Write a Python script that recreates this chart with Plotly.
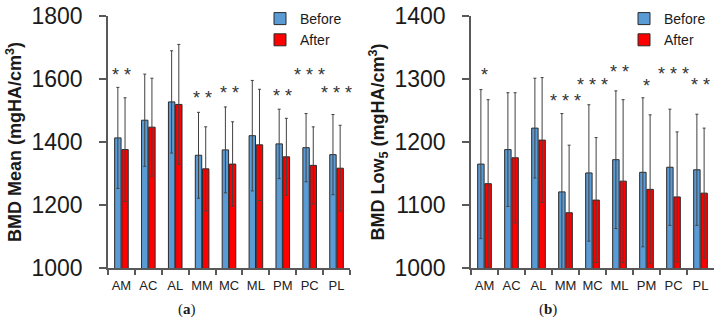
import plotly.graph_objects as go
from plotly.subplots import make_subplots

regions = ["AM", "AC", "AL", "MM", "MC", "ML", "PM", "PC", "PL"]

# Panel (a): BMD Mean
mean_before = [1413, 1469, 1527, 1358, 1375, 1420, 1394, 1382, 1360]
mean_before_sd = [160, 146, 162, 136, 136, 175, 110, 108, 127]
mean_after = [1376, 1447, 1519, 1315, 1330, 1391, 1353, 1326, 1317]
mean_after_sd = [164, 155, 190, 133, 134, 176, 122, 122, 136]
mean_sig = ["**", "", "", "**", "**", "", "**", "***", "***"]
mean_sig_y = [1612, 0, 0, 1538, 1554, 0, 1546, 1612, 1556]

# Panel (b): BMD Low5
low_before = [1165, 1188, 1222, 1121, 1151, 1172, 1152, 1160, 1156]
low_before_sd = [118, 90, 79, 124, 108, 109, 118, 92, 88]
low_after = [1134, 1175, 1203, 1088, 1108, 1138, 1125, 1113, 1119]
low_after_sd = [133, 103, 99, 107, 99, 129, 118, 103, 103]
low_sig = ["*", "", "", "***", "***", "**", "*", "***", "**"]
low_sig_y = [1306, 0, 0, 1265, 1291, 1311, 1289, 1308, 1291]

BLUE = "#5b9bd5"
RED = "#ff0000"
EDGE = "#2b2b2b"
ERR = "#404040"
AXIS = "#595959"
FONT = "Arial, Liberation Sans, sans-serif"

fig = make_subplots(rows=1, cols=2)

def add_panel(col, before, bsd, after, asd, legend):
    fig.add_trace(go.Bar(
        x=regions, y=before, name="Before", marker_color=BLUE,
        marker_line=dict(color=EDGE, width=1),
        error_y=dict(type="data", array=bsd, visible=True, color=ERR, thickness=1, width=1.5),
        legend=legend), row=1, col=col)
    fig.add_trace(go.Bar(
        x=regions, y=after, name="After", marker_color=RED,
        marker_line=dict(color=EDGE, width=1),
        error_y=dict(type="data", array=asd, visible=True, color=ERR, thickness=1, width=1.5),
        legend=legend), row=1, col=col)

add_panel(1, mean_before, mean_before_sd, mean_after, mean_after_sd, "legend")
add_panel(2, low_before, low_before_sd, low_after, low_after_sd, "legend2")

def spaced(s):
    return " ".join(list(s))

for i, (s, y) in enumerate(zip(mean_sig, mean_sig_y)):
    if s:
        fig.add_annotation(x=regions[i], y=y, xref="x", yref="y", text=spaced(s),
                           xanchor="center", yanchor="middle",
                           showarrow=False, font=dict(size=18, color="#333", family=FONT))
for i, (s, y) in enumerate(zip(low_sig, low_sig_y)):
    if s:
        fig.add_annotation(x=regions[i], y=y, xref="x2", yref="y2", text=spaced(s),
                           xanchor="center", yanchor="middle",
                           showarrow=False, font=dict(size=18, color="#333", family=FONT))

H = 321.0
W = 721.0
ydom = [(H - 268.3) / H, (H - 15.7) / H]

xcommon = dict(showline=True, linecolor=AXIS, linewidth=1.5, ticks="outside", ticklen=5,
               tickcolor=AXIS, tickwidth=1.5, tickson="boundaries", showgrid=False,
               tickangle=0, ticklabelstandoff=4,
               tickfont=dict(size=13, color="#222", family=FONT), range=[-0.5, 8.5])
ycommon = dict(showline=True, linecolor=AXIS, linewidth=1.5, ticks="outside", ticklen=7,
               tickcolor=AXIS, tickwidth=1.5, showgrid=False, zeroline=False,
               tickfont=dict(size=23, color="#1a1a1a", family=FONT), ticklabelstandoff=12,
               domain=ydom)

TITLE_FONT = dict(size=18, color="#1a1a1a", family=FONT)

fig.update_xaxes(**xcommon)
fig.update_yaxes(**ycommon)
fig.update_layout(
    xaxis=dict(domain=[108 / W, 350 / W]),
    xaxis2=dict(domain=[471 / W, 714 / W]),
    yaxis=dict(range=[1000, 1800], dtick=200,
               title=dict(text="<b>BMD Mean (mgHA/cm<sup>3</sup>)</b>", standoff=5, font=TITLE_FONT)),
    yaxis2=dict(range=[1000, 1400], dtick=100,
                title=dict(text="<b>BMD Low<sub>5</sub> (mgHA/cm<sup>3</sup>)</b>", standoff=5,
                           font=TITLE_FONT)),
    barmode="group", bargap=0.465, bargroupgap=0.11,
    width=721, height=321,
    margin=dict(l=0, r=0, t=0, b=0, autoexpand=False),
    paper_bgcolor="white", plot_bgcolor="white",
    font=dict(family=FONT, color="#1a1a1a"),
    legend=dict(x=260 / W, y=1 - 3 / H, xanchor="left", yanchor="top",
                font=dict(size=14, family=FONT, color="#1a1a1a"), bgcolor="rgba(0,0,0,0)",
                tracegroupgap=0),
    legend2=dict(x=624 / W, y=1 - 3 / H, xanchor="left", yanchor="top",
                 font=dict(size=14, family=FONT, color="#1a1a1a"), bgcolor="rgba(0,0,0,0)",
                 tracegroupgap=0),
    showlegend=True,
)

fig.add_annotation(x=187 / W, y=1 - 309 / H, xref="paper", yref="paper", showarrow=False,
                   xanchor="center", yanchor="middle",
                   text="(<b>a</b>)", font=dict(size=15, family="Liberation Serif, serif", color="#1a1a1a"))
fig.add_annotation(x=548 / W, y=1 - 309 / H, xref="paper", yref="paper", showarrow=False,
                   xanchor="center", yanchor="middle",
                   text="(<b>b</b>)", font=dict(size=15, family="Liberation Serif, serif", color="#1a1a1a"))

fig.write_html("out.html")
